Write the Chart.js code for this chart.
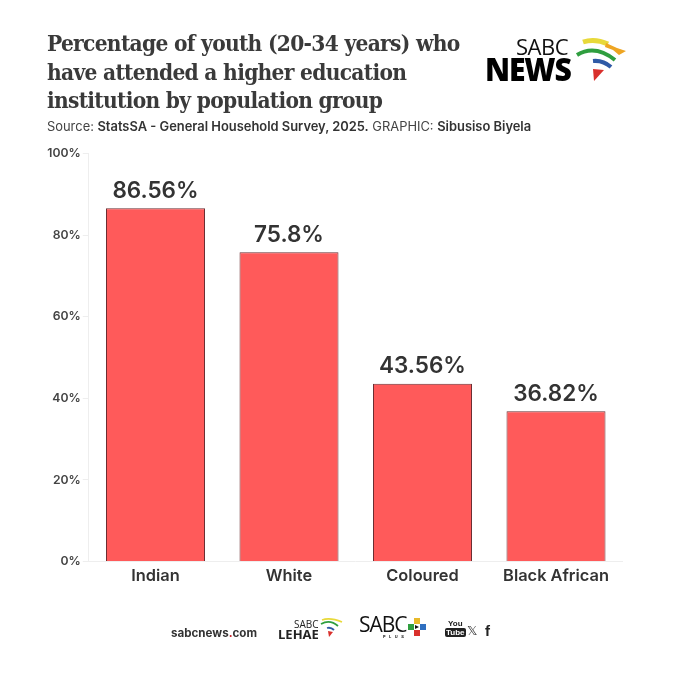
<!DOCTYPE html>
<html>
<head>
<meta charset="utf-8">
<script src="https://cdn.jsdelivr.net/npm/chart.js@4"></script>
<style>
html, body { margin: 0; padding: 0; background: #fff; }
#page { position: relative; width: 673px; height: 680px; overflow: hidden; font-family: Inter, sans-serif; color: #333; }
#page canvas { position: absolute; left: 0; top: 0; }
.abs { position: absolute; white-space: nowrap; }
#title { left: 47px; top: 29px; font-family: "DejaVu Serif Condensed", "DejaVu Serif", serif; font-weight: 700; font-size: 22.5px; line-height: 28.5px; color: #3a3a3a; letter-spacing: -0.7px; }
#source { left: 47px; top: 119px; font-size: 12.9px; color: #444; }
#source b { font-weight: 600; color: #333; }
</style>
</head>
<body>
<div id="page">
  <canvas id="youthChart" width="673" height="680"></canvas>
  <div class="abs" id="title">Percentage of youth (20-34 years) who<br>have attended a higher education<br>institution by population group</div>
  <div class="abs" id="source">Source: <b>StatsSA - General Household Survey, 2025.</b> GRAPHIC: <b>Sibusiso Biyela</b></div>

  <div class="abs" style="left:516px;top:31px;font:400 22px 'Open Sans',sans-serif;color:#111;letter-spacing:-0.5px">SABC</div>
  <div class="abs" style="left:485px;top:47px;font:800 32px 'Open Sans',sans-serif;color:#000;letter-spacing:-1.2px;transform:scaleX(.94);transform-origin:left">NEWS</div>
  <svg class="abs" style="left:575px;top:36px" width="55" height="50" viewBox="0 0 55 50">
    <path d="M8 6 Q20 2 33 8" stroke="#e8d93a" stroke-width="5" fill="none"/>
    <path d="M31 7 L42 12 L51 15 L44 19 L38 14 L30 11Z" fill="#eea522"/>
    <path d="M2 19 Q20 8 40 24" stroke="#2f9e3f" stroke-width="4" fill="none"/>
    <path d="M18 25 Q28 24 36 31" stroke="#2f5aa6" stroke-width="4" fill="none"/>
    <path d="M18 33 L29 34 L19 45Z" fill="#d9302c"/>
  </svg>

  <div class="abs" style="left:171px;top:626px;font:700 11.6px Inter,sans-serif;color:#333">sabcnews<span style="color:#c8242b">.</span>com</div>
  <div class="abs" style="left:294px;top:617px;font:400 10px 'Open Sans',sans-serif;color:#222">SABC</div>
  <div class="abs" style="left:278px;top:625px;font:700 13px 'Open Sans',sans-serif;color:#222">LEHAE</div>
  <svg class="abs" style="left:320px;top:617px" width="24" height="22" viewBox="0 0 24 22">
    <path d="M2 3 Q10 0 22 5" stroke="#e8d93a" stroke-width="1.8" fill="none"/>
    <path d="M1 7 Q10 2 18 9" stroke="#2f9e3f" stroke-width="1.8" fill="none"/>
    <path d="M7 11 Q11 10 14 13" stroke="#2f5aa6" stroke-width="1.8" fill="none"/>
    <path d="M8 14 L13 15 L9 20Z" fill="#d9302c"/>
  </svg>
  <div class="abs" style="left:359px;top:610px;font:400 21px 'Open Sans',sans-serif;color:#111;letter-spacing:-1px">SABC</div>
  <svg class="abs" style="left:407px;top:617px" width="20" height="20" viewBox="0 0 20 20">
    <rect x="7" y="1" width="6" height="6" fill="#e8b92a"/><rect x="1" y="7" width="6" height="6" fill="#2f9e3f"/>
    <rect x="13" y="7" width="6" height="6" fill="#2f6fc0"/><rect x="7" y="13" width="6" height="6" fill="#d9302c"/>
    <path d="M8 8 L12 10 L8 12Z" fill="#111"/>
  </svg>
  <div class="abs" style="left:383px;top:634px;font:700 4px Inter,sans-serif;letter-spacing:3.5px;color:#222">PLUS</div>
  <div class="abs" style="left:445px;top:619px;font:700 8px 'Liberation Sans Narrow','Liberation Sans',sans-serif;color:#222;line-height:9px;text-align:center">You<br><span style="background:#222;color:#fff;border-radius:2px;padding:0 1px">Tube</span></div>
  <div class="abs" style="left:467px;top:623px;font:400 13px 'DejaVu Sans',sans-serif;color:#333">𝕏</div>
  <div class="abs" style="left:485px;top:622px;font:700 15px 'Liberation Sans',sans-serif;color:#222">f</div>
</div>
<script>
const categories = ['Indian', 'White', 'Coloured', 'Black African'];
const values = [86.56, 75.8, 43.56, 36.82];
const valueLabels = ['86.56%', '75.8%', '43.56%', '36.82%'];
const tickValues = [0, 20, 40, 60, 80, 100];

// value labels above each bar
const barLabels = {
    id: 'barLabels',
    afterDatasetsDraw(chart) {
        const ctx = chart.ctx;
        ctx.save();
        ctx.font = '600 22.5px Inter, sans-serif';
        ctx.fillStyle = '#333';
        ctx.textAlign = 'center';
        ctx.textBaseline = 'bottom';
        chart.getDatasetMeta(0).data.forEach((bar, i) => {
            ctx.fillText(valueLabels[i], bar.x, bar.y - 6);
        });
        ctx.restore();
    }
};

new Chart(document.getElementById('youthChart').getContext('2d'), {
    type: 'bar',
    data: {
        labels: categories,
        datasets: [{
            data: values,
            backgroundColor: '#ff5a5a',
            borderColor: '#6b2f33',
            borderWidth: 1,
            categoryPercentage: 1,
            barPercentage: 0.7416
        }]
    },
    plugins: [barLabels],
    options: {
        responsive: false,
        animation: false,
        devicePixelRatio: 1,
        layout: { padding: { top: 153.5, right: 50.25, left: 0, bottom: 0 } },
        plugins: { legend: { display: false }, tooltip: { enabled: false } },
        scales: {
            y: {
                min: 0,
                max: 100,
                afterFit(scale) { scale.width = 88.75; },
                afterBuildTicks(scale) { scale.ticks = tickValues.map(v => ({ value: v })); },
                grid: { drawOnChartArea: false, color: '#eeeeee', tickLength: 6 },
                border: { color: '#eeeeee' },
                ticks: {
                    padding: 2,
                    color: '#444',
                    font: { family: 'Inter, sans-serif', size: 12.2, weight: '600' },
                    callback: v => v + '%'
                }
            },
            x: {
                afterFit(scale) { scale.height = 118.5; },
                grid: { display: false },
                border: { color: '#eeeeee' },
                ticks: {
                    padding: -3,
                    color: '#333',
                    maxRotation: 0,
                    font: { family: 'Inter, sans-serif', size: 16.4, weight: '600' }
                }
            }
        }
    }
});
</script>
</body>
</html>
